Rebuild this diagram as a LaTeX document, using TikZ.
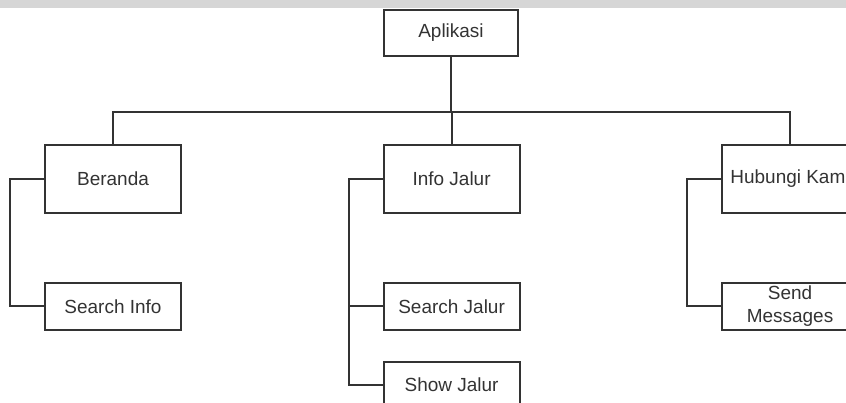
\documentclass[tikz,border=0pt]{standalone}
\usepackage{fontspec}
\setmainfont{Liberation Sans}
\usetikzlibrary{positioning}
\definecolor{linegray}{HTML}{333333}
\definecolor{bandgray}{HTML}{D6D6D6}

\begin{document}
\begin{tikzpicture}[
    menu/.style={draw=linegray, line width=1.3pt, minimum width=3.4cm, text=linegray,
        font=\fontsize{13.5}{16.3}\selectfont, inner sep=0pt, align=center},
    mainmenu/.style={menu, minimum height=1.7cm},
    submenu/.style={menu, minimum height=1.175cm},
    link/.style={draw=linegray, line width=1.3pt}
]
    \useasboundingbox (0,0) rectangle (21.15,-10.075);
    \clip (0,0) rectangle (21.15,-10.075);

    % Top band
    \fill[bandgray] (0,0) rectangle (21.15,-0.2);

    % Root
    \node[menu, minimum width=3.35cm, minimum height=1.15cm] (apl) at (11.275,-0.825) {Aplikasi};

    % Main menus
    \node[mainmenu] (beranda) at (2.825,-4.475) {Beranda};
    \node[mainmenu] (info) at (11.29,-4.475) {Info Jalur};
    \node[mainmenu] (hubungi) at (19.75,-4.475) {Hubungi Kami};

    % Sub menus
    \node[submenu, below=1.7cm of beranda] (sinfo) {Search Info};
    \node[submenu, below=1.7cm of info] (sjalur) {Search Jalur};
    \node[submenu, below=0.75cm of sjalur] (showjalur) {Show Jalur};
    \node[submenu, below=1.7cm of hubungi] (sendmsg) {Send\\Messages};

    % Tree lines
    \coordinate (bus) at (11.29,-2.8);
    \draw[link] (apl.south) -- (apl.south |- bus);
    \draw[link] (beranda.north) |- (bus) -| (hubungi.north);
    \draw[link] (info.north) -- (info.north |- bus);

    % Sub menu links
    \draw[link] (beranda.west) -- ++(-0.85,0) |- (sinfo.west);
    \draw[link] (info.west) -- ++(-0.85,0) coordinate (infobar) |- (showjalur.west);
    \draw[link] (infobar |- sjalur.west) -- (sjalur.west);
    \draw[link] (hubungi.west) -- ++(-0.85,0) |- (sendmsg.west);
\end{tikzpicture}
\end{document}
